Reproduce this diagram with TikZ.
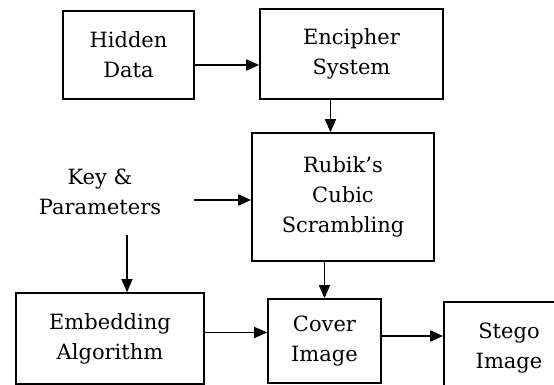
\documentclass[tikz,border=0pt]{standalone}
\usepackage{fontspec}
\setmainfont{DejaVu Serif}
\usetikzlibrary{arrows.meta}

\tikzset{
  blockbox/.style={draw, line width=1.6pt, inner sep=0pt, align=center,
    font=\fontsize{21}{30}\selectfont},
  plaintext/.style={inner sep=2pt, align=center, font=\fontsize{21}{30}\selectfont},
  flow/.style={line width=1.4pt, -{Triangle[length=13pt,width=11pt]}}
}

\begin{document}
\begin{tikzpicture}[x=1pt, y=-1pt]

\useasboundingbox (0,0) rectangle (554,385);

% Top row
\node[blockbox, minimum width=131pt, minimum height=88pt] (hidden) at (128.5,55) {Hidden\\Data};
\node[blockbox, minimum width=183pt, minimum height=90pt] (encipher) at (351.5,54) {Encipher\\System};

% Middle row
\node[plaintext] (key) at (100,192) {Key \&\\Parameters};
\node[blockbox, minimum width=182pt, minimum height=128pt] (rubik) at (343,197) {Rubik's\\Cubic\\Scrambling};

% Bottom row
\node[blockbox, minimum width=188pt, minimum height=91pt] (embed) at (110,338.5) {Embedding\\Algorithm};
\node[blockbox, minimum width=113pt, minimum height=84pt] (cover) at (324.5,341) {Cover\\Image};
\node[blockbox, minimum width=130pt, minimum height=92pt] (stego) at (509,348) {Stego\\Image};

% Arrows
\draw[flow] ([yshift=-10pt]hidden.east) -- ([yshift=-10pt]hidden.east -| encipher.west);
\draw[flow] ([xshift=-21pt]encipher.south) -- ([xshift=-21pt]encipher.south |- rubik.north);
\draw[flow] ([xshift=31pt,yshift=-8pt]key.east) -- ([yshift=-8pt]key.east -| rubik.west);
\draw[flow] ([xshift=27pt,yshift=-18pt]key.south) -- ([xshift=27pt]key.south |- embed.north);
\draw[flow] (cover.north |- rubik.south) -- (cover.north);
\draw[flow] ([yshift=6pt]embed.east) -- ([yshift=6pt]embed.east -| cover.west);
\draw[flow] ([yshift=5pt]cover.east) -- ([yshift=5pt]cover.east -| stego.west);

\end{tikzpicture}
\end{document}
